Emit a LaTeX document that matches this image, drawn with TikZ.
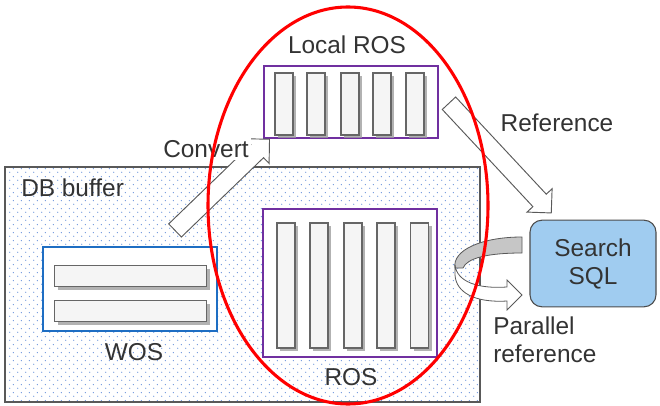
\documentclass[tikz,border=0pt]{standalone}
\usepackage{fontspec}
\setmainfont{Liberation Sans}
\usetikzlibrary{shapes.geometric,shapes.arrows,shadows,fit,patterns.meta}
\definecolor{sqlblue}{RGB}{160,204,240}
\definecolor{wosblue}{RGB}{30,110,195}
\definecolor{rospurple}{RGB}{112,48,160}
\definecolor{dotblue}{RGB}{110,150,220}
\tikzdeclarepattern{
	name=bufferdots,
	type=uncolored,
	bounding box={(0pt,0pt) and (6pt,6pt)},
	tile size={(6pt,6pt)},
	code={
		\fill (1.5pt,1.5pt) circle (0.55pt);
		\fill (4.5pt,4.5pt) circle (0.55pt);
	}
}
\tikzset{
	tag/.style={
		font=\fontsize{18.3}{21}\selectfont,
		text=black!80,
		inner sep=0pt
	},
	colbar/.style={
		draw=gray!80!black,
		fill=gray!8,
		line width=1pt,
		inner sep=0pt,
		minimum width=13.5pt,
		drop shadow={shadow xshift=2.4pt, shadow yshift=-2.4pt, fill=gray!75, opacity=0.8}
	},
	rowbar/.style={
		colbar,
		minimum width=114pt,
		minimum height=15.75pt
	},
	blockarrow/.style={
		single arrow,
		draw=gray!70!black,
		fill=white,
		line width=0.7pt,
		inner sep=6.5pt,
		single arrow head extend=6pt,
		single arrow tip angle=90
	},
}

\begin{document}
\begin{tikzpicture}[x=0.75pt,y=-0.75pt]
\useasboundingbox (0,0) rectangle (660,406);

% DB buffer area
\node[draw=gray!70!black, line width=0.9pt, inner sep=0pt,
	preaction={fill=white}, pattern={bufferdots}, pattern color=dotblue,
	fit={(5,167) (480,402)}] (buffer) {};
\node[tag, anchor=west] (buffertxt) at (21,188) {DB buffer};

% WOS
\node[draw=wosblue, fill=white, line width=1.5pt, inner sep=0pt,
	fit={(43,247) (217,331)}] (wos) {};
\node[rowbar] (wos1) at (130.5,276) {};
\node[rowbar] (wos2) at (130.5,311) {};
\node[tag] (wostxt) at (134,352) {WOS};

% ROS
\node[draw=rospurple, fill=white, line width=1.5pt, inner sep=0pt,
	fit={(263,209) (437,357)}] (ros) {};
\foreach \i/\x in {1/286,2/319,3/353,4/386,5/419.5}
	\node[colbar, minimum height=93.75pt] (ros\i) at (\x,285.5) {};
\node[tag] (rostxt) at (351,377) {ROS};

% Local ROS
\node[draw=rospurple, fill=white, line width=1.5pt, inner sep=0pt,
	fit={(264,66) (438,138)}] (local) {};
\foreach \i/\x in {1/284,2/316,3/350,4/382,5/415}
	\node[colbar, minimum height=46.5pt] (local\i) at (\x,104) {};
\node[tag] (localtxt) at (347,45) {Local ROS};

% Search SQL
\node[draw=gray!60!black, fill=sqlblue, rounded corners=9pt, line width=0.8pt,
	minimum width=94.5pt, minimum height=65pt, align=center,
	font=\fontsize{18.3}{21}\selectfont, text=black!80] (sql) at (593,263.5) {Search\\SQL};

% convert and reference arrows
\node[blockarrow, minimum height=98.5pt, rotate=44] (convert) at (219,188) {};
\node[tag, fill=white, inner sep=1.5pt] (converttxt) at (206,149) {Convert};
\node[blockarrow, minimum height=112.5pt, rotate=-47] (reference) at (497,154.75) {};
\node[tag] (referencetxt) at (557,123) {Reference};

% parallel reference
\filldraw[draw=gray!70!black, fill=gray!45, line width=0.6pt]
	(522,237) -- (522,253) .. controls (488,253) and (467,258) .. (463,268)
	-- (455,268) .. controls (452,250) and (482,237) .. (522,237) -- cycle;
\filldraw[draw=gray!70!black, fill=white, line width=0.6pt]
	(455,265) .. controls (457,282) and (478,289) .. (507,287)
	-- (507,280) -- (522,295) -- (507,310) -- (507,301)
	.. controls (474,303) and (456,292) .. (455,275) -- cycle;
\node[tag, anchor=west, align=left] (paralleltxt) at (493,340) {Parallel\\reference};

% local ROS group
\node[ellipse, draw=red, line width=2.3pt, inner sep=0pt,
	minimum width=210pt, minimum height=297.75pt] (group) at (348,205.5) {};

\end{tikzpicture}
\end{document}
